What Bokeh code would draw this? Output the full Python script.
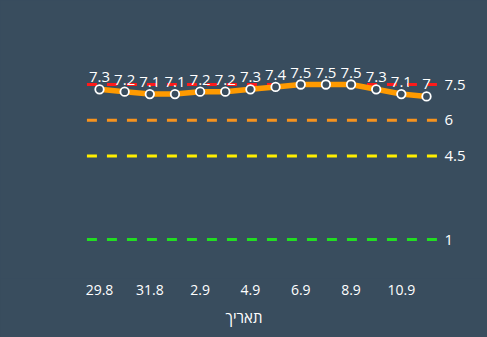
from bokeh.plotting import figure
from bokeh.models import ColumnDataSource, FixedTicker, Range1d
from bokeh.embed import file_html
from bokeh.resources import INLINE
from bokeh.core.properties import value

dates = ["29.8", "30.8", "31.8", "1.9", "2.9", "3.9", "4.9", "5.9", "6.9", "7.9", "8.9", "9.9", "10.9", "11.9"]
values = [7.3, 7.2, 7.1, 7.1, 7.2, 7.2, 7.3, 7.4, 7.5, 7.5, 7.5, 7.3, 7.1, 7.0]
thresholds = [7.5, 6, 4.5, 1]
threshold_labels = ["7.5", "6", "4.5", "1"]
threshold_colors = ["#ff1a1a", "#f7931e", "#ffee00", "#22dd22"]
tick_dates = ["29.8", "31.8", "2.9", "4.9", "6.9", "8.9", "10.9"]
axis_title = "תאריך"

BG = "#394d5e"
FONT = "Open Sans"

idx = list(range(len(dates)))

p = figure(width=487, height=337, output_backend="svg", toolbar_location=None,
           x_range=Range1d(-3.936, 15.425), y_range=Range1d(-0.635, 11.023),
           min_border_left=0, min_border_right=0, min_border_top=0, min_border_bottom=59)
p.styles = {"background-color": BG}
p.background_fill_color = BG
p.border_fill_color = BG
p.outline_line_color = None
p.grid.visible = False
p.yaxis.visible = False

# threshold dashed lines
for t, c in zip(thresholds, threshold_colors):
    p.line([-0.5, 13.45], [t, t], line_color=c, line_width=3, line_dash="10 10")
src_t = ColumnDataSource(dict(x=[idx[-1]] * len(thresholds), y=thresholds, t=threshold_labels))
p.text("x", "y", text="t", source=src_t, x_offset=18, text_align="left", text_baseline="middle",
       text_color="white", text_font=value(FONT), text_font_size="15px")

src = ColumnDataSource(dict(x=idx, y=values, lab=[("%g" % v) for v in values]))
p.line("x", "y", source=src, line_color="#ff9a00", line_width=5.5)
p.scatter("x", "y", source=src, size=8.5, fill_color=BG, line_color="white", line_width=1.8)
p.text("x", "y", text="lab", source=src, y_offset=-12, text_align="center", text_baseline="alphabetic",
       text_color="white", text_font=value(FONT), text_font_size="15px")

xa = p.xaxis[0]
xa.ticker = FixedTicker(ticks=[dates.index(d) for d in tick_dates])
xa.major_label_overrides = {dates.index(d): d for d in tick_dates}
xa.axis_line_color = None
xa.major_tick_line_color = None
xa.minor_tick_line_color = None
xa.major_tick_out = 0
xa.major_label_standoff = 6
xa.major_label_text_color = "white"
xa.major_label_text_font = FONT
xa.major_label_text_font_size = "14px"
xa.axis_label = axis_title
xa.axis_label_text_color = "white"
xa.axis_label_text_font = FONT
xa.axis_label_text_font_style = "normal"
xa.axis_label_text_font_size = "15px"
xa.axis_label_standoff = 9

open("out.html", "w").write(file_html(p, INLINE))
